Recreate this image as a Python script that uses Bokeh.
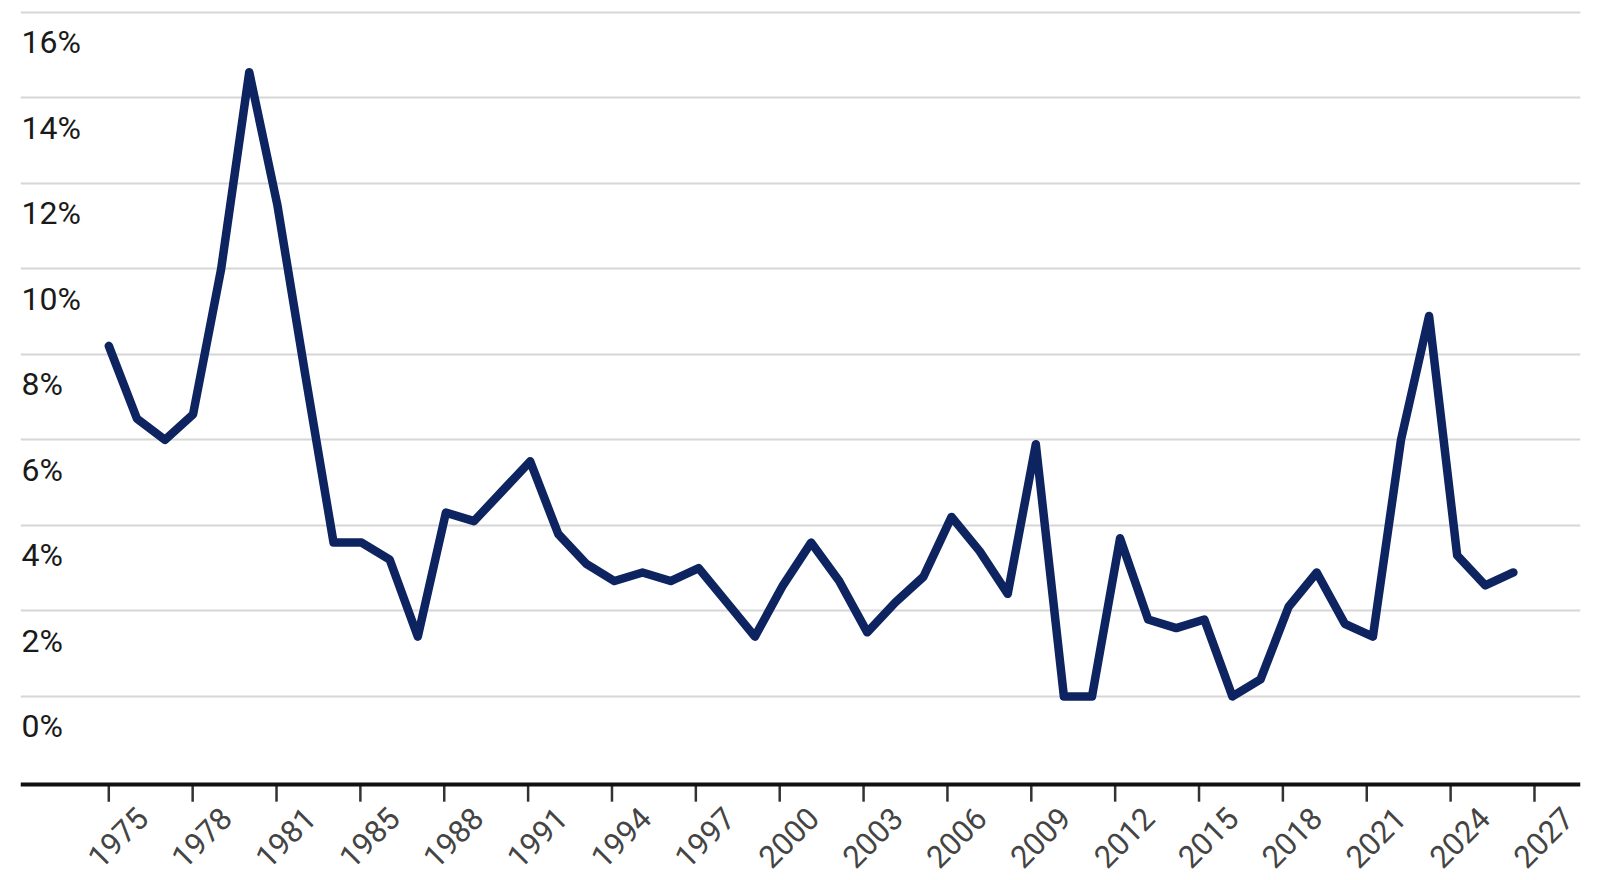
import math
from bokeh.plotting import figure
from bokeh.models import FixedTicker, Range1d, ColumnDataSource, Span
from bokeh.core.properties import value
from bokeh.embed import file_html
from bokeh.resources import INLINE

# ---- data ----
years = list(range(1975, 2026))
rates = [8.2, 6.5, 6.0, 6.6, 10.0, 14.6, 11.5, 7.5, 3.6, 3.6,
         3.2, 1.4, 4.3, 4.1, 4.8, 5.5, 3.8, 3.1, 2.7, 2.9,
         2.7, 3.0, 2.2, 1.4, 2.6, 3.6, 2.7, 1.5, 2.2, 2.8,
         4.2, 3.4, 2.4, 5.9, 0.0, 0.0, 3.7, 1.8, 1.6, 1.8,
         0.0, 0.4, 2.1, 2.9, 1.7, 1.4, 6.0, 8.9, 3.3, 2.6, 2.9]
x_tick_labels = ["1975", "1978", "1981", "1985", "1988", "1991", "1994", "1997",
                 "2000", "2003", "2006", "2009", "2012", "2015", "2018", "2021",
                 "2024", "2027"]
y_ticks = [0, 2, 4, 6, 8, 10, 12, 14, 16]
y_tick_labels = ["0%", "2%", "4%", "6%", "8%", "10%", "12%", "14%", "16%"]

# ---- layout / style ----
X_START, X_END = 1971.857, 2027.39
Y_START, Y_END = -4.21, 16.09     # frame reaches the canvas bottom so the year labels fit inside it
AXIS_Y = -2.06                    # where the baseline axis is drawn
TICK_LEN = 0.40                   # tick mark length (in % units, ~17px)
TICK_STEP = 2.9854                # axis ticks are spaced slightly narrower than 3 data years
LINE_COLOR = "#0d2461"
FONT = "Roboto"

p = figure(width=1600, height=876, output_backend="svg", toolbar_location=None,
           x_range=Range1d(X_START, X_END), y_range=Range1d(Y_START, Y_END),
           min_border_left=20, min_border_right=20, min_border_top=8,
           min_border_bottom=0)
p.outline_line_color = None
p.background_fill_color = "white"
p.border_fill_color = "white"

# y grid only; built-in axes hidden
p.xaxis.visible = False
p.yaxis.visible = False
p.yaxis.ticker = FixedTicker(ticks=y_ticks)
p.ygrid.ticker = FixedTicker(ticks=y_ticks)
p.ygrid.grid_line_color = "#d6d6d6"
p.ygrid.grid_line_width = 2
p.xgrid.grid_line_color = None

# baseline axis: line, tick marks and rotated year labels
tick_pos = [round(years[0] + k * TICK_STEP, 4) for k in range(len(x_tick_labels))]
n = len(tick_pos)
p.add_layout(Span(location=AXIS_Y, dimension="width", line_color="#111111",
                  line_width=4))
p.segment(x0=tick_pos, y0=[AXIS_Y] * n, x1=tick_pos, y1=[AXIS_Y - TICK_LEN] * n,
          line_color="#333333", line_width=2.5)
p.text(x=tick_pos, y=[AXIS_Y] * n, text=x_tick_labels, angle=math.pi / 4,
       x_offset=9, y_offset=53, text_align="center", text_baseline="middle",
       text_font=value(FONT), text_font_size="31px", text_color="#444444")

# series line
src = ColumnDataSource(dict(year=years, rate=rates))
p.line("year", "rate", source=src, line_color=LINE_COLOR, line_width=8.5,
       line_join="round", line_cap="round")

# y labels below their gridlines, inside the plot area
lab_src = ColumnDataSource(dict(x=[X_START] * len(y_ticks), y=y_ticks, t=y_tick_labels))
p.text("x", "y", text="t", source=lab_src, text_font=value(FONT),
       text_font_size="32px", text_color="#1a1a1a", text_align="left",
       text_baseline="alphabetic", x_offset=1, y_offset=30)

open("out.html", "w").write(file_html(p, INLINE))
